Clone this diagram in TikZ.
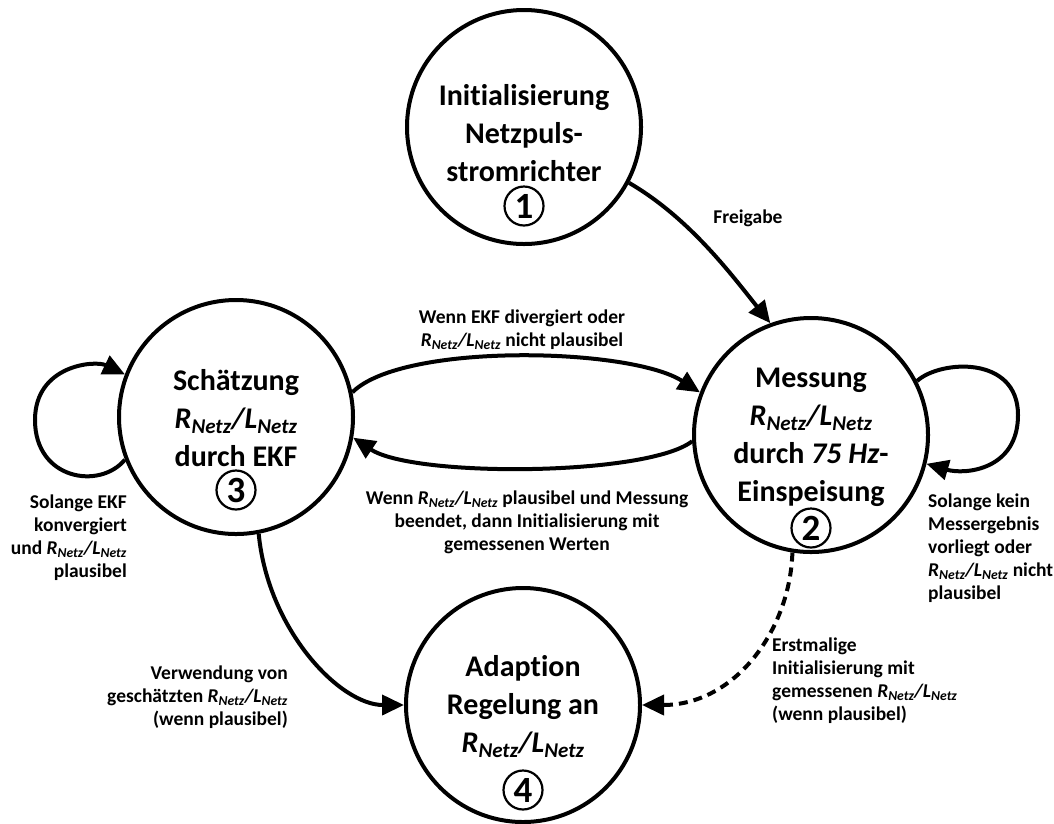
\documentclass[tikz,border=0pt]{standalone}
\usepackage{fontspec}
\setmainfont{Carlito}[Ligatures=CommonOff]
\usetikzlibrary{arrows.meta}
\newcommand\RL{\textit{R\textsubscript{Netz}/L\textsubscript{Netz}}}
\begin{document}
\begin{tikzpicture}[x=1pt,y=-1pt,
  state/.style={circle,draw,line width=4pt,minimum size=234pt,inner sep=0pt},
  stext/.style={align=center,font=\fontsize{30}{38}\selectfont\bfseries,inner sep=0pt},
  num/.style={circle,draw,line width=2.2pt,minimum size=39pt,inner sep=0pt,font=\fontsize{37}{37}\selectfont\bfseries},
  lab/.style={font=\fontsize{19.5}{23}\selectfont\bfseries,inner sep=0pt},
  conn/.style={line width=4pt,-{Triangle[length=22pt,width=20pt]}},
]
\useasboundingbox (0,0) rectangle (1054,823);
% states
\node[state] (s1) at (524,127) {};
\node[state] (s2) at (811,435) {};
\node[state] (s3) at (236,417) {};
\node[state] (s4) at (523,705) {};
% texts
\node[stext] (t1) at (524,133) {Initialisierung\\Netzpuls-\\stromrichter};
\node[num] (n1) at (524,206) {1};
\node[stext] (t2) at (811,437) {Messung\\\RL\\durch \textit{75 Hz}-\\Einspeisung};
\node[num] (n2) at (811,528) {2};
\node[stext] (t3) at (236,418) {Schätzung\\\RL\\durch EKF};
\node[num] (n3) at (236,490) {3};
\node[stext] (t4) at (523,707) {Adaption\\Regelung an\\\RL};
\node[num] (n4) at (523,790) {4};
% connectors
\draw[conn] (s1.-28) .. controls +(60,35) and +(-40,-50) .. (s2.110);
\draw[conn] (s3.12) .. controls +(50,-50) and +(-70,-45) .. (s2.159);
\draw[conn] (s2.-177) .. controls +(-45,35) and +(60,40) .. (s3.-10);
\draw[conn] (s3.-159) .. controls (100,490) and (35,480) .. (35,420)
   .. controls (35,365) and (95,360) .. (s3.159);
\draw[conn] (s2.27) .. controls (940,360) and (1018,355) .. (1018,415)
   .. controls (1018,470) and (965,475) .. (s2.-14);
\draw[conn] (s3.-79) .. controls (268,630) and (340,705) .. (s4.180);
\draw[conn,dash pattern=on 9pt off 6pt] (s2.-99) .. controls (790,630) and (735,705) .. (s4.0);
% labels
\node[lab] (l1) at (748,218) {Freigabe};
\node[lab,align=center] (l2) at (522,330) {Wenn EKF divergiert oder\\\RL{} nicht plausibel};
\node[lab,align=center] (l3) at (527,522) {Wenn \RL{} plausibel und Messung\\beendet, dann Initialisierung mit\\gemessenen Werten};
\node[lab,align=right,anchor=east] (l4) at (127,538) {Solange EKF\\konvergiert\\und \RL\\plausibel};
\node[lab,align=left,anchor=west] (l5) at (928,548) {Solange kein\\Messergebnis\\vorliegt oder\\\RL{} nicht\\plausibel};
\node[lab,align=right,anchor=east] (l6) at (288,697) {Verwendung von\\geschätzten \RL\\(wenn plausibel)};
\node[lab,align=left,anchor=west] (l7) at (772,681) {Erstmalige\\Initialisierung mit\\gemessenen \RL\\(wenn plausibel)};
\end{tikzpicture}
\end{document}
